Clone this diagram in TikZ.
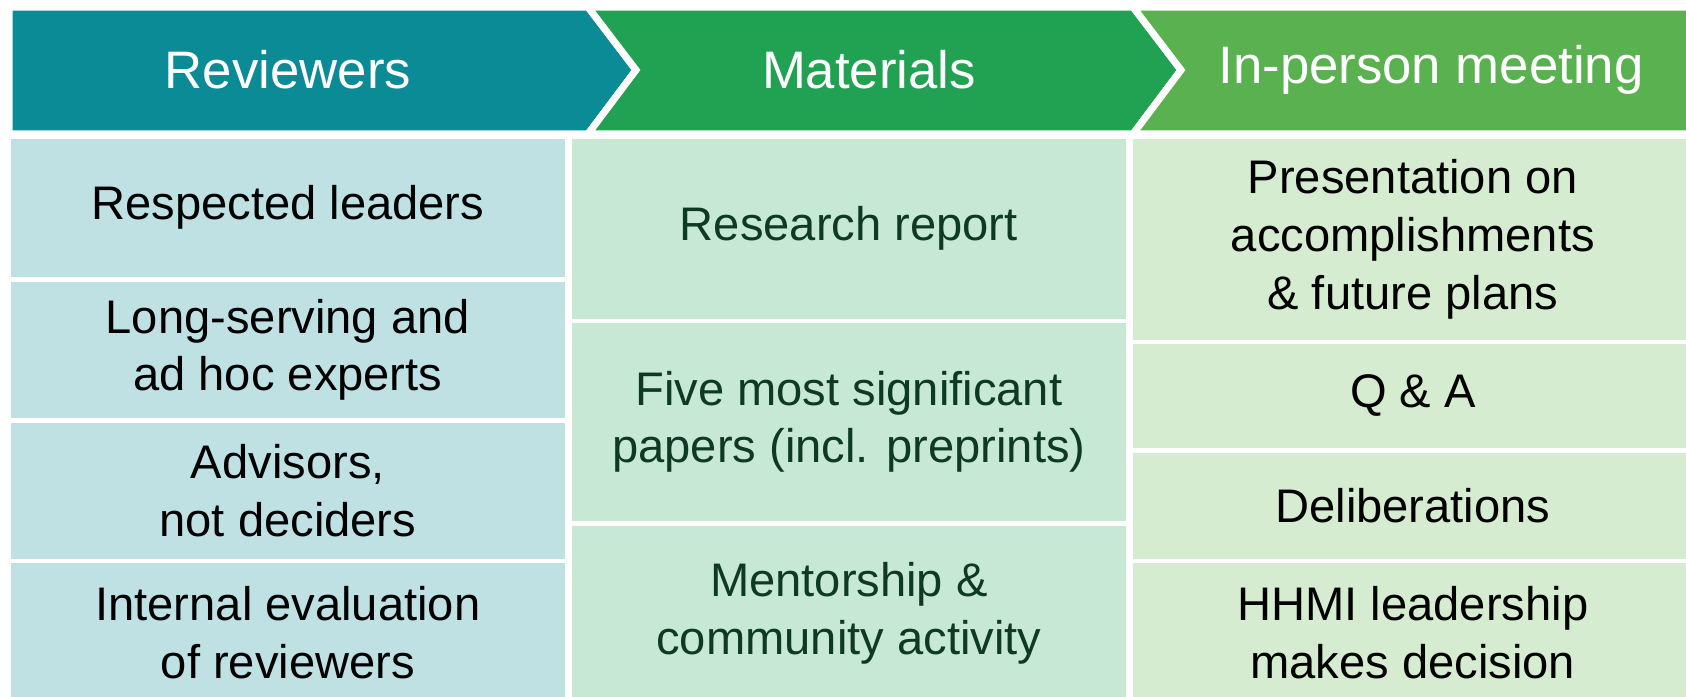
\documentclass[tikz,border=0pt]{standalone}
\usepackage{fontspec}
\setmainfont{Liberation Sans}
\usetikzlibrary{positioning}
\definecolor{revhead}{HTML}{0A8B95}
\definecolor{mathead}{HTML}{21A152}
\definecolor{meethead}{HTML}{59B14F}
\definecolor{revcell}{HTML}{BFE1E3}
\definecolor{matcell}{HTML}{C7E8D3}
\definecolor{meetcell}{HTML}{D6ECD0}
\definecolor{mattext}{HTML}{0E3A1F}
\tikzstyle{chevron}=[draw=white, line width=2pt, line join=miter]
\tikzstyle{headtext}=[text=white, font=\fontsize{15}{17}\selectfont, inner sep=0pt]
\tikzstyle{cell}=[anchor=north west, inner sep=0pt, align=center, minimum width=5.54cm, font=\fontsize{13.4}{16.4}\selectfont]

\begin{document}
\begin{tikzpicture}[x=0.01cm, y=-0.01cm]
    \useasboundingbox (0,0) rectangle (1686,696);

    % the three arrow heads
    \path[chevron, fill=revhead] (9,7) -- (588,7) -- (636,70) -- (588,134) -- (9,134) -- cycle;
    \path[chevron, fill=mathead] (588,7) -- (1133,7) -- (1181,70) -- (1133,134) -- (588,134) -- (636,70) -- cycle;
    \path[chevron, fill=meethead] (1133,7) -- (1700,7) -- (1700,134) -- (1133,134) -- (1181,70) -- cycle;

    \node[headtext] (reviewers) at (288,70) {Reviewers};
    \node[headtext] (materials) at (869,70) {Materials};
    \node[headtext] (meeting) at (1431,70) {In-person meeting};

    % first column
    \foreach \pos/\name/\hgt/\txt in {{(10,138)/leaders/1.38/{Respected leaders}},
                                   {(10,281)/experts/1.36/{Long-serving and\\ad hoc experts}},
                                   {(10,422)/advisors/1.36/{Advisors,\\not deciders}},
                                   {(10,562)/evaluation/1.40/{Internal evaluation\\of reviewers}}}
        \node[cell, fill=revcell, minimum height=\hgt cm] (\name) at \pos {\txt};

    % second column
    \foreach \pos/\name/\hgt/\txt in {{(571,138)/report/1.80/{Research report}},
                                   {(571,322)/papers/1.98/{Five most significant\\papers (incl. preprints)}},
                                   {(571,525)/mentorship/1.75/{Mentorship \&\\community activity}}}
        \node[cell, fill=matcell, text=mattext, minimum height=\hgt cm] (\name) at \pos {\txt};

    % third column
    \foreach \pos/\name/\hgt/\txt in {{(1132,138)/presentation/2.01/{Presentation on\\accomplishments\\\& future plans}},
                                   {(1132,343)/qanda/1.04/{Q \& A}},
                                   {(1132,452)/deliberations/1.06/{Deliberations}},
                                   {(1132,562)/decision/1.40/{HHMI leadership\\makes decision}}}
        \node[cell, fill=meetcell, minimum width=5.60cm, minimum height=\hgt cm] (\name) at \pos {\txt};

\end{tikzpicture}
\end{document}
